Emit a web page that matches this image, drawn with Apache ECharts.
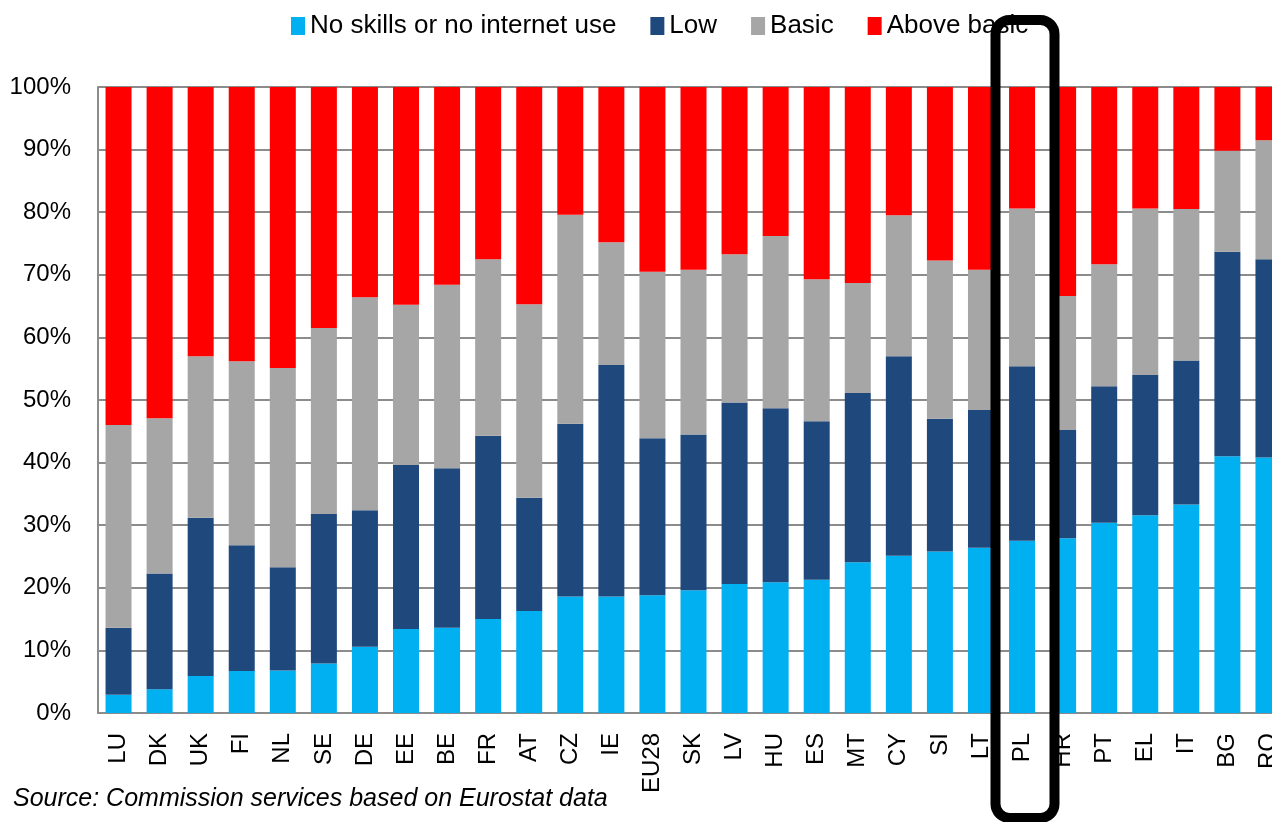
<!DOCTYPE html>
<html>
<head>
<meta charset="utf-8">
<script src="https://cdn.jsdelivr.net/npm/echarts@6/dist/echarts.min.js"></script>
<style>
html, body { margin: 0; padding: 0; background: #fff; overflow: hidden; }
#main { width: 1300px; height: 822px; }
</style>
</head>
<body>
<div id="main"></div>
<script>
var countries = ['LU', 'DK', 'UK', 'FI', 'NL', 'SE', 'DE', 'EE', 'BE', 'FR', 'AT', 'CZ', 'IE', 'EU28', 'SK',
    'LV', 'HU', 'ES', 'MT', 'CY', 'SI', 'LT', 'PL', 'HR', 'PT', 'EL', 'IT', 'BG', 'RO'];

// shares in % of individuals
var noSkills = [2.9, 3.8, 5.9, 6.7, 6.8, 7.9, 10.6, 13.4, 13.6, 15.0, 16.3, 18.6, 18.6, 18.8, 19.6,
    20.6, 20.9, 21.3, 24.1, 25.1, 25.8, 26.4, 27.5, 27.9, 30.4, 31.6, 33.3, 41.0, 40.8];
var low = [10.7, 18.5, 25.3, 20.1, 16.5, 23.9, 21.8, 26.2, 25.5, 29.3, 18.1, 27.6, 37.0, 25.1, 24.9,
    29.0, 27.8, 25.3, 27.0, 31.9, 21.2, 22.0, 27.9, 17.3, 21.8, 22.4, 23.0, 32.7, 31.7];
var basic = [32.4, 24.8, 25.8, 29.4, 31.8, 29.7, 34.0, 25.6, 29.3, 28.2, 30.9, 33.4, 19.6, 26.6, 26.3,
    23.7, 27.5, 22.7, 17.6, 22.5, 25.3, 22.4, 25.2, 21.4, 19.5, 26.6, 24.2, 16.1, 19.0];
var aboveBasic = [54.0, 52.9, 43.0, 43.8, 44.9, 38.5, 33.6, 34.8, 31.6, 27.5, 34.7, 20.4, 24.8, 29.5, 29.2,
    26.7, 23.8, 30.7, 31.3, 20.5, 27.7, 29.2, 19.4, 33.4, 28.3, 19.4, 19.5, 10.2, 8.5];

var seriesNames = ['No skills or no internet use', 'Low', 'Basic', 'Above basic'];
var seriesColors = ['#00B0F0', '#1F497D', '#A6A6A6', '#FF0000'];
var seriesData = [noSkills, low, basic, aboveBasic];

var font = "'Liberation Sans', Arial, sans-serif";

var myChart = echarts.init(document.getElementById('main'));

var series = seriesNames.map(function (name, i) {
    return {
        name: name,
        type: 'bar',
        stack: 'total',
        barWidth: 26,
        itemStyle: { color: seriesColors[i] },
        data: seriesData[i]
    };
});

var option = {
    backgroundColor: '#ffffff',
    animation: false,
    textStyle: { fontFamily: font },
    title: {
        text: 'Source: Commission services based on Eurostat data',
        left: 8,
        top: 782,
        textStyle: {
            fontFamily: font,
            fontSize: 25,
            fontStyle: 'italic',
            fontWeight: 'normal',
            color: '#000'
        }
    },
    legend: {
        left: 286,
        top: 8,
        itemWidth: 14,
        itemHeight: 18,
        itemGap: 34,
        icon: 'rect',
        textStyle: { fontSize: 26, color: '#000', fontFamily: font },
        data: seriesNames
    },
    grid: {
        left: 98,
        top: 87,
        width: 1191,
        height: 626,
        outerBoundsMode: 'none'
    },
    xAxis: {
        type: 'category',
        data: countries,
        axisTick: { show: false },
        axisLine: { lineStyle: { color: '#8c8c8c', width: 2 } },
        axisLabel: {
            interval: 0,
            rotate: 90,
            margin: 20,
            fontSize: 24,
            color: '#000',
            fontFamily: font
        }
    },
    yAxis: {
        type: 'value',
        min: 0,
        max: 100,
        interval: 10,
        axisTick: { show: false },
        axisLine: { show: true, lineStyle: { color: '#8c8c8c', width: 2 } },
        splitLine: { lineStyle: { color: '#8c8c8c', width: 2 } },
        axisLabel: {
            formatter: '{value}%',
            margin: 27,
            fontSize: 24,
            color: '#000',
            fontFamily: font
        }
    },
    graphic: [{
        type: 'rect',
        z: 100,
        shape: { x: 995.5, y: 20, width: 59, height: 798, r: 14 },
        style: { fill: 'none', stroke: '#000', lineWidth: 10 }
    }],
    series: series
};
myChart.setOption(option);
</script>
</body>
</html>
